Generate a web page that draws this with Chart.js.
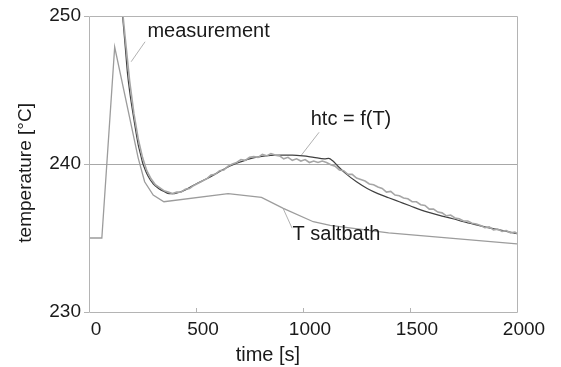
<!DOCTYPE html>
<html>
<head>
<meta charset="utf-8">
<script src="https://cdn.jsdelivr.net/npm/chart.js@4.4.1/dist/chart.umd.min.js"></script>
<style>
  html,body{margin:0;padding:0;background:#fff;}
  #wrap{width:561px;height:367px;}
</style>
</head>
<body>
<div id="wrap"><canvas id="c" width="561" height="367"></canvas></div>
<script>
// ---- data ----
const saltTime = [0, 60, 120, 230, 260, 300, 350, 650, 806, 908, 1048, 1127, 1400, 2000];
const saltTemp = [235, 235, 247.9, 240.4, 238.8, 237.9, 237.45, 238.0, 237.75, 237.0, 236.1, 235.85, 235.35, 234.6];

const htcTime = [140,150,160,170,180,190,200,210,220,230,240,250,260,275,300,325,350,375,400,425,450,500,550,600,650,700,750,800,850,900,950,1000,1050,1100,1120,1140,1160,1200,1250,1300,1350,1400,1450,1500,1550,1600,1650,1700,1750,1800,1850,1900,1950,2000];
const htcTemp = [253,251.2,249.5,247.8,246.1,244.9,243.9,243.0,242.1,241.3,240.7,240.1,239.7,239.2,238.65,238.35,238.15,238.0,238.0,238.1,238.25,238.65,239.0,239.4,239.8,240.1,240.35,240.5,240.58,240.6,240.6,240.55,240.45,240.35,240.38,240.2,239.9,239.35,238.8,238.35,238.0,237.72,237.45,237.18,236.9,236.68,236.48,236.3,236.1,235.92,235.75,235.6,235.45,235.3];

const measTime = [
  150,170,190,210,230,250,270,290,310,330,
  350,370,390,410,430,450,470,490,510,530,
  550,570,590,610,630,650,670,690,710,730,
  750,770,790,810,830,850,870,890,910,930,
  950,970,990,1010,1030,1050,1070,1090,1110,1130,
  1150,1170,1190,1210,1230,1250,1270,1290,1310,1330,
  1350,1370,1390,1410,1430,1450,1470,1490,1510,1530,
  1550,1570,1590,1610,1630,1650,1670,1690,1710,1730,
  1750,1770,1790,1810,1830,1850,1870,1890,1910,1930,
  1950,1970,1990,2000];
const measTemp = [
  251.3,248.4,245.6,243.4,241.7,240.45,239.55,239.0,238.6,238.4,
  238.2,238.1,238.0,238.1,238.1,238.3,238.35,238.55,238.7,238.85,
  239.0,239.25,239.3,239.55,239.6,239.85,240.0,240.1,240.3,240.25,
  240.45,240.5,240.45,240.65,240.55,240.7,240.6,240.55,240.35,240.45,
  240.25,240.35,240.2,240.3,240.1,240.2,240.1,240.2,240.1,239.95,
  239.85,239.6,239.55,239.3,239.3,239.05,238.95,238.85,238.65,238.6,
  238.45,238.35,238.1,238.15,237.9,237.85,237.7,237.65,237.45,237.45,
  237.25,237.2,236.95,236.95,236.75,236.7,236.5,236.55,236.35,236.3,
  236.15,236.15,236.0,235.95,235.85,235.7,235.75,235.55,235.6,235.45,
  235.5,235.35,235.4,235.3];

const xTicks = [0, 500, 1000, 1500, 2000];
const yTicks = [230, 240, 250];

const labels = ["measurement", "htc = f(T)", "T saltbath"];
const xTitle = "time [s]";
const yTitle = "temperature [°C]";

// ---- annotation placement (data units) ----
const annot = [
  {text: labels[0], tx: 273, ty: 248.58, l1: [197, 246.91], l2: [262, 248.26]},
  {text: labels[1], tx: 1036, ty: 242.64, l1: [993, 240.61], l2: [1075, 242.14]},
  {text: labels[2], tx: 951, ty: 234.86, l1: [907, 237.0], l2: [949, 235.66]}
];

const pts = (xs, ys) => xs.map((x, i) => ({x: x, y: ys[i]}));
const FONT = '"Liberation Sans", Arial, sans-serif';
const AXIS = '#b4b4b4';

const overlay = {
  id: 'overlay',
  afterDatasetsDraw(chart) {
    const {ctx, chartArea: a, scales: {x, y}} = chart;
    ctx.save();
    // frame
    ctx.strokeStyle = AXIS; ctx.lineWidth = 1;
    ctx.beginPath();
    ctx.moveTo(a.left + 0.5, a.top + 0.5); ctx.lineTo(a.right + 0.5, a.top + 0.5);
    ctx.lineTo(a.right + 0.5, a.bottom + 0.5); ctx.lineTo(a.left + 0.5, a.bottom + 0.5);
    ctx.lineTo(a.left + 0.5, a.top + 0.5);
    ctx.stroke();
    // inward x ticks
    ctx.beginPath();
    xTicks.slice(1, -1).forEach(v => {
      const px = Math.round(x.getPixelForValue(v)) + 0.5;
      ctx.moveTo(px, a.bottom); ctx.lineTo(px, a.bottom - 4);
    });
    ctx.stroke();
    // leader lines
    ctx.strokeStyle = '#a8a8a8'; ctx.lineWidth = 0.9;
    annot.forEach(an => {
      ctx.beginPath();
      ctx.moveTo(x.getPixelForValue(an.l1[0]), y.getPixelForValue(an.l1[1]));
      ctx.lineTo(x.getPixelForValue(an.l2[0]), y.getPixelForValue(an.l2[1]));
      ctx.stroke();
    });
    // annotation texts
    ctx.fillStyle = '#1a1a1a';
    ctx.font = '20px ' + FONT;
    ctx.textAlign = 'left'; ctx.textBaseline = 'alphabetic';
    annot.forEach(an => {
      ctx.fillText(an.text, x.getPixelForValue(an.tx), y.getPixelForValue(an.ty));
    });
    // axis titles
    ctx.font = '20px ' + FONT;
    ctx.textAlign = 'center';
    ctx.fillText(xTitle, x.getPixelForValue(836), 361);
    ctx.save();
    ctx.translate(31, y.getPixelForValue(239.4));
    ctx.rotate(-Math.PI / 2);
    ctx.font = '19px ' + FONT;
    ctx.fillText(yTitle, 0, 0);
    ctx.restore();
    ctx.restore();
  }
};

new Chart(document.getElementById('c'), {
  type: 'line',
  data: {
    datasets: [
      {label: labels[2], data: pts(saltTime, saltTemp), borderColor: '#9c9c9c', borderWidth: 1.3, pointRadius: 0, tension: 0},
      {label: labels[0], data: pts(measTime, measTemp), borderColor: '#a6a6a6', borderWidth: 1.6, pointRadius: 0, tension: 0},
      {label: labels[1], data: pts(htcTime, htcTemp), borderColor: '#404040', borderWidth: 1.2, pointRadius: 0, cubicInterpolationMode: 'monotone'}
    ]
  },
  options: {
    responsive: false,
    animation: false,
    devicePixelRatio: 1,
    layout: {padding: {left: 0, right: 44, top: 16, bottom: 0}},
    plugins: {legend: {display: false}, tooltip: {enabled: false}},
    scales: {
      x: {
        type: 'linear', min: 0, max: 2000,
        afterBuildTicks: s => { s.ticks = xTicks.map(v => ({value: v})); },
        afterFit: s => { s.height = 55; },
        border: {display: false},
        grid: {display: false, drawTicks: false},
        ticks: {color: '#1a1a1a', font: {family: FONT, size: 19}, padding: 6, labelOffset: 7, maxRotation: 0, autoSkip: false,
                callback: v => String(v)}
      },
      y: {
        type: 'linear', min: 230, max: 250,
        afterBuildTicks: s => { s.ticks = yTicks.map(v => ({value: v})); },
        afterFit: s => { s.width = 89; },
        border: {display: false},
        grid: {color: ctx => ctx.tick && ctx.tick.value === 240 ? '#a8a8a8' : 'rgba(0,0,0,0)', tickColor: AXIS, tickLength: 5, lineWidth: 1},
        ticks: {color: '#1a1a1a', font: {family: FONT, size: 19}, padding: 3, callback: v => String(v)}
      }
    }
  },
  plugins: [overlay]
});
</script>
</body>
</html>
